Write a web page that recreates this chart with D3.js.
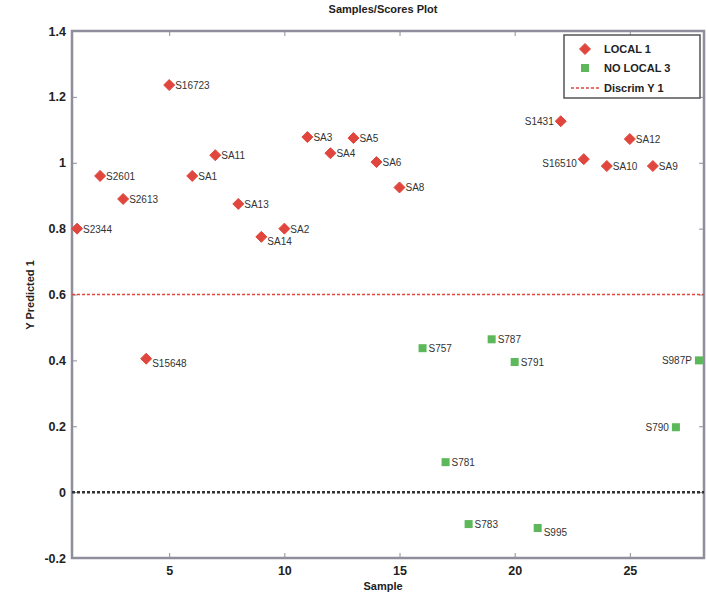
<!DOCTYPE html>
<html>
<head>
<meta charset="utf-8">
<script src="https://cdn.jsdelivr.net/npm/d3@7"></script>
<style>
  body { margin: 0; background: #fff; }
  svg { display: block; font-family: "Liberation Sans", Arial, sans-serif; }
</style>
</head>
<body>
<svg id="chart" width="707" height="597"></svg>
<script>
// ---- data ----
const localSamples = [1, 2, 3, 4, 5, 6, 7, 8, 9, 10, 11, 12, 13, 14, 15, 22, 23, 24, 25, 26];
const localValues  = [0.80, 0.96, 0.89, 0.405, 1.236, 0.96, 1.023, 0.875, 0.775, 0.80, 1.078, 1.029, 1.075, 1.002, 0.925, 1.126, 1.011, 0.99, 1.072, 0.99];
const localLabels  = ["S2344", "S2601", "S2613", "S15648", "S16723", "SA1", "SA11", "SA13", "SA14", "SA2", "SA3", "SA4", "SA5", "SA6", "SA8", "S1431", "S16510", "SA10", "SA12", "SA9"];

const noLocalSamples = [16, 17, 18, 19, 20, 21, 27, 28];
const noLocalValues  = [0.437, 0.091, -0.097, 0.464, 0.395, -0.109, 0.197, 0.40];
const noLocalLabels  = ["S757", "S781", "S783", "S787", "S791", "S995", "S790", "S987P"];

const discrimValue = 0.6;
const zeroValue = 0;
const xTicks = [5, 10, 15, 20, 25];
const yTicks = [-0.2, 0, 0.2, 0.4, 0.6, 0.8, 1, 1.2, 1.4];
const legendLabels = ["LOCAL 1", "NO LOCAL 3", "Discrim Y 1"];

// labels placed to the left of their marker
const leftLabels = new Set(["S1431", "S16510", "S790", "S987P"]);
const lowLabels = new Set(["S15648", "SA14", "S995", "S16510"]);

// ---- layout ----
const svg = d3.select("#chart");
const m = { left: 72, right: 704, top: 31, bottom: 558 };
const x = d3.scaleLinear().domain([0.78, 28.22]).range([m.left, m.right]);
const y = d3.scaleLinear().domain([-0.2, 1.4]).range([m.bottom, m.top]);

const axisColor = "#8e8e9c";
const red = "#e0463e";
const green = "#5cb85a";
const textColor = "#333";

// title
svg.append("text").attr("x", 383).attr("y", 13).attr("text-anchor", "middle")
  .attr("font-size", 11).attr("font-weight", "bold").attr("fill", "#222")
  .text("Samples/Scores Plot");

// axes
const xAxis = d3.axisBottom(x).tickValues(xTicks).tickSize(-5).tickPadding(8).tickFormat(d3.format("d"));
const yAxis = d3.axisLeft(y).tickValues(yTicks).tickSize(-5).tickPadding(6)
  .tickFormat(d => d === 0 ? "0" : String(+d.toFixed(1)));

const gx = svg.append("g").attr("transform", `translate(0,${m.bottom})`).call(xAxis);
const gy = svg.append("g").attr("transform", `translate(${m.left},0)`).call(yAxis);
[gx, gy].forEach(g => {
  g.select(".domain").remove();
  g.selectAll(".tick line").attr("stroke", axisColor).attr("stroke-width", 1);
  g.selectAll(".tick text").attr("font-size", 12.5).attr("font-weight", "bold").attr("fill", "#222");
});
// top and right ticks
svg.append("g").attr("transform", `translate(0,${m.top})`)
  .call(d3.axisTop(x).tickValues(xTicks).tickSize(-5).tickFormat(""))
  .call(g => { g.select(".domain").remove(); g.selectAll(".tick line").attr("stroke", axisColor); });
svg.append("g").attr("transform", `translate(${m.right},0)`)
  .call(d3.axisRight(y).tickValues(yTicks).tickSize(-5).tickFormat(""))
  .call(g => { g.select(".domain").remove(); g.selectAll(".tick line").attr("stroke", axisColor); });

// box
svg.append("rect").attr("x", m.left).attr("y", m.top)
  .attr("width", m.right - m.left).attr("height", m.bottom - m.top)
  .attr("fill", "none").attr("stroke", axisColor).attr("stroke-width", 2.5);

// axis labels
svg.append("text").attr("x", 383).attr("y", 590).attr("text-anchor", "middle")
  .attr("font-size", 11).attr("font-weight", "bold").attr("fill", "#222").text("Sample");
svg.append("text").attr("transform", "translate(34,295) rotate(-90)").attr("text-anchor", "middle")
  .attr("font-size", 11).attr("font-weight", "bold").attr("fill", "#222").text("Y Predicted 1");

// reference lines
svg.append("line").attr("x1", m.left).attr("x2", m.right)
  .attr("y1", y(discrimValue)).attr("y2", y(discrimValue))
  .attr("stroke", red).attr("stroke-width", 1.5).attr("stroke-dasharray", "3,2");
svg.append("line").attr("x1", m.left).attr("x2", m.right)
  .attr("y1", y(zeroValue)).attr("y2", y(zeroValue))
  .attr("stroke", "#333").attr("stroke-width", 2.5).attr("stroke-dasharray", "3,2");

// markers
const diamond = "M0,-5.5L5.5,0L0,5.5L-5.5,0Z";
const localData = localSamples.map((s, i) => ({ s, v: localValues[i], l: localLabels[i] }));
const noLocalData = noLocalSamples.map((s, i) => ({ s, v: noLocalValues[i], l: noLocalLabels[i] }));

svg.append("g").selectAll("path").data(localData).join("path")
  .attr("d", diamond).attr("transform", d => `translate(${x(d.s)},${y(d.v)})`)
  .attr("fill", red).attr("stroke", red).attr("stroke-width", 1).attr("stroke-linejoin", "round");
svg.append("g").selectAll("rect").data(noLocalData).join("rect")
  .attr("x", d => x(d.s) - 4).attr("y", d => y(d.v) - 4)
  .attr("width", 8).attr("height", 8).attr("fill", green);

// point labels
const allData = localData.concat(noLocalData);
svg.append("g").selectAll("text").data(allData).join("text")
  .attr("x", d => leftLabels.has(d.l) ? x(d.s) - 7 : x(d.s) + 6)
  .attr("y", d => y(d.v) + (lowLabels.has(d.l) ? 8 : 4))
  .attr("text-anchor", d => leftLabels.has(d.l) ? "end" : "start")
  .attr("font-size", 10).attr("fill", textColor)
  .text(d => d.l);

// legend
const lg = svg.append("g");
lg.append("rect").attr("x", 564).attr("y", 35).attr("width", 136).attr("height", 63)
  .attr("fill", "#fff").attr("stroke", "#555").attr("stroke-width", 1.5);
const ly = [49, 68, 88];
lg.append("path").attr("d", diamond).attr("transform", `translate(585,${ly[0]})`)
  .attr("fill", red).attr("stroke", red).attr("stroke-linejoin", "round");
lg.append("rect").attr("x", 581).attr("y", ly[1] - 4).attr("width", 8).attr("height", 8).attr("fill", green);
lg.append("line").attr("x1", 571).attr("x2", 600).attr("y1", ly[2]).attr("y2", ly[2])
  .attr("stroke", red).attr("stroke-width", 1.5).attr("stroke-dasharray", "3,2");
lg.selectAll("text.leg").data(legendLabels).join("text").attr("class", "leg")
  .attr("x", 604).attr("y", (d, i) => ly[i] + 4)
  .attr("font-size", 11).attr("font-weight", "bold").attr("fill", "#222")
  .text(d => d);
</script>
</body>
</html>
